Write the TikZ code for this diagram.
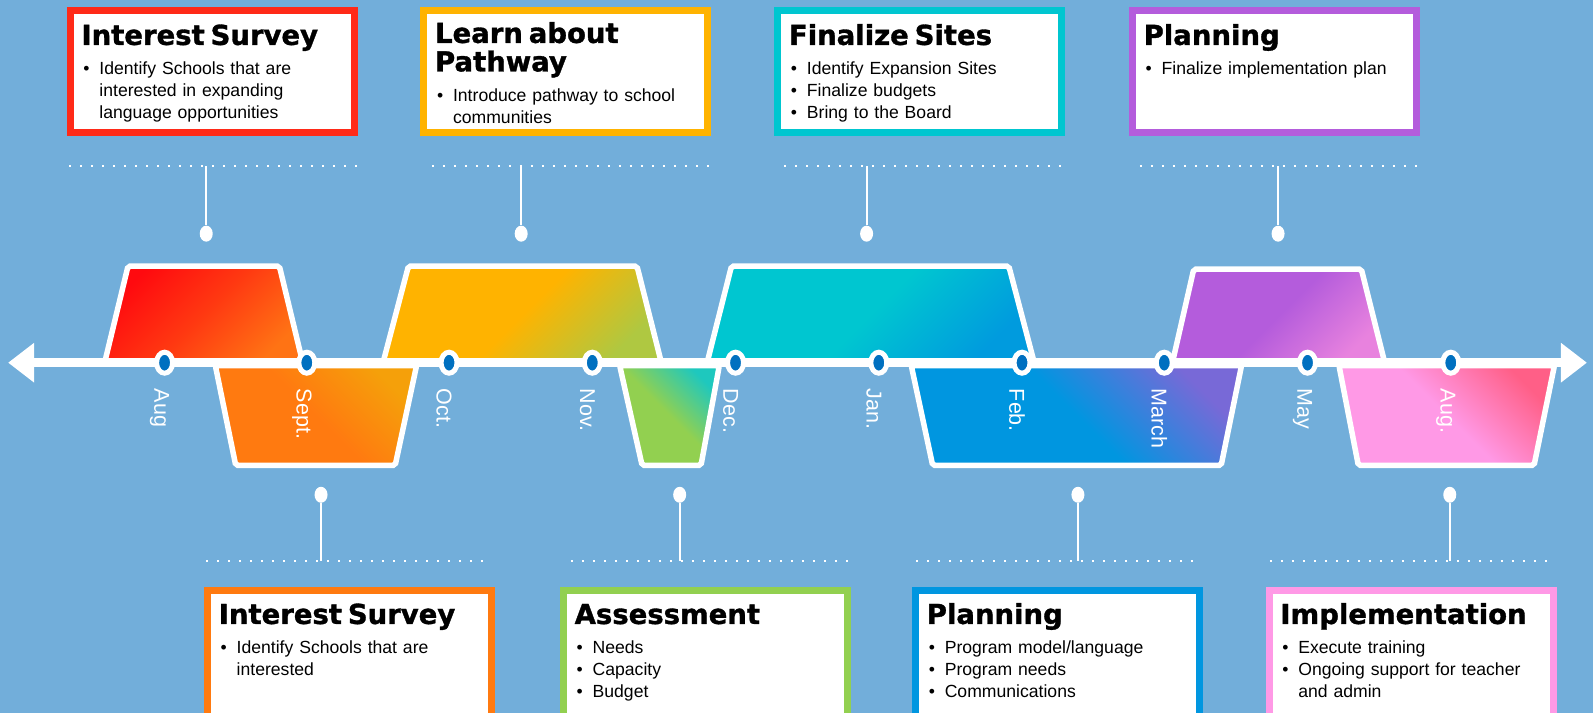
\documentclass[tikz,border=0pt]{standalone}
\usepackage{fontspec}
\setmainfont{Liberation Sans}
\newfontfamily\headfam{DejaVu Sans}[BoldFeatures={FakeBold=1.2}]
\usetikzlibrary{positioning,arrows.meta,shapes.geometric}

\definecolor{bg}{RGB}{114,174,218}
\definecolor{dotblue}{RGB}{0,112,192}
\definecolor{cred}{RGB}{255,42,24}
\definecolor{cgold}{RGB}{255,179,0}
\definecolor{cteal}{RGB}{0,198,208}
\definecolor{cpurple}{RGB}{180,92,220}
\definecolor{corange}{RGB}{255,122,16}
\definecolor{cgreen}{RGB}{146,208,80}
\definecolor{cblue}{RGB}{0,150,224}
\definecolor{cpink}{RGB}{255,153,230}
\definecolor{sred}{RGB}{255,10,15}
\definecolor{sred2}{RGB}{255,115,20}
\definecolor{sgold2}{RGB}{175,200,65}
\definecolor{steal2}{RGB}{0,155,222}
\definecolor{spurple2}{RGB}{232,130,222}
\definecolor{sorange2}{RGB}{245,160,10}
\definecolor{sgreen2}{RGB}{30,200,190}
\definecolor{sblue2}{RGB}{120,105,215}
\definecolor{spink2}{RGB}{255,95,135}

\newcommand{\hd}[1]{\noindent{\headfam\bfseries\fontsize{27.5}{28.5}\selectfont\rule{0pt}{21pt}#1\par}\vspace{8pt}}
\newcommand{\bul}[1]{\par\noindent\hangindent=18pt\hangafter=1\makebox[18pt][l]{\hspace{2pt}\textbullet}#1\par}

\begin{document}
\begin{tikzpicture}[x=1.01594pt, y=-1.01594pt,
	card/.style={draw=#1, line width=7pt, fill=white, minimum width=284pt, inner sep=0pt},
	txt/.style={inner sep=0pt, text width=265pt, align=left, font=\fontsize{17.6}{22}\selectfont},
	slab/.style={draw=white, line width=5.5pt, rounded corners=2pt},
	upshade/.style 2 args={top color=#1, bottom color=#2, middle color=#1, shading angle=45},
	downshade/.style 2 args={top color=#2, bottom color=#1, middle color=#1, shading angle=-45},
	mdot/.style={ellipse, fill=dotblue, draw=white, line width=5pt, minimum width=16pt, minimum height=21pt, inner sep=0pt},
	month/.style={rotate=-90, anchor=west, inner sep=0pt, text=white, font=\fontsize{21.5}{24}\selectfont},
	knob/.style={ellipse, fill=white, minimum width=13pt, minimum height=16pt, inner sep=0pt},
	stem/.style={white, line width=2pt},
	dotrule/.style={white, line width=2pt, dash pattern=on 2pt off 9pt}]

	\useasboundingbox (0,0) rectangle (1568,701.8);
	\fill[bg] (0,0) rectangle (1568,701.8);
	\clip (0,0) rectangle (1568,701.8);

	% slabs
	\draw[slab, upshade={sred}{sred2}, middle color=sred!55!sred2] (126,262) -- (275,262) -- (298,357) -- (103,357) -- cycle;
	\draw[slab, upshade={cgold}{sgold2}] (402,262) -- (627,262) -- (651,357) -- (377,357) -- cycle;
	\draw[slab, upshade={cteal}{steal2}] (720,262) -- (993,262) -- (1018,357) -- (696,357) -- cycle;
	\draw[slab, upshade={cpurple}{spurple2}] (1175,265) -- (1340,265) -- (1363,357) -- (1154,357) -- cycle;
	\draw[slab, downshade={corange}{sorange2}] (212,360) -- (410,360) -- (389,458) -- (232,458) -- cycle;
	\draw[slab, downshade={cgreen}{sgreen2}] (610,360) -- (708,360) -- (690,458) -- (632,458) -- cycle;
	\draw[slab, downshade={cblue}{sblue2}] (897,360) -- (1222,360) -- (1202,458) -- (918,458) -- cycle;
	\draw[slab, downshade={cpink}{spink2}] (1318,360) -- (1530,360) -- (1510,458) -- (1337,458) -- cycle;

	% time line
	\coordinate (la) at (8,357);
	\coordinate (ra) at (1562,357);
	\draw[white, line width=9pt, {Triangle[length=26pt,width=38pt]}-{Triangle[length=26pt,width=38pt]}] (la) -- (ra);
	\foreach \x/\m [count=\i] in {162/Aug, 302/Sept., 442/Oct., 583/Nov., 724/Dec., 865/Jan., 1006/Feb., 1146/March, 1287/May, 1428/Aug.}{
		\node[mdot] (d\i) at (\x,357) {};
		\node[month] (m\i) at ([xshift=-5pt, yshift=-26pt]d\i.center) {\m};
	}

	% cards above
	\node[card=cred, minimum height=122pt] (top1) at (208.9,70.6) {};
	\node[card=cgold, minimum height=122pt] (top2) at (557,70.6) {};
	\node[card=cteal, minimum height=122pt] (top3) at (905.3,70.6) {};
	\node[card=cpurple, minimum height=122pt] (top4) at (1254.5,70.6) {};

	\node[txt, below right=16.5pt and 14.5pt of top1.north west] (ttop1) {\hd{Interest Survey}\bul{Identify Schools that are\newline interested in expanding\newline language opportunities}};
	\node[txt, below right=14.5pt and 14.5pt of top2.north west] (ttop2) {\hd{Learn about\newline Pathway}\bul{Introduce pathway to school\newline communities}};
	\node[txt, below right=16.5pt and 14.5pt of top3.north west] (ttop3) {\hd{Finalize Sites}\bul{Identify Expansion Sites}\bul{Finalize budgets}\bul{Bring to the Board}};
	\node[txt, below right=16.5pt and 14.5pt of top4.north west] (ttop4) {\hd{Planning}\bul{Finalize implementation plan}};

	% cards below
	\node[card=corange, minimum height=150pt] (bot1) at (344,655.3) {};
	\node[card=cgreen, minimum height=150pt] (bot2) at (694.4,655.3) {};
	\node[card=cblue, minimum height=150pt] (bot3) at (1041,655.3) {};
	\node[card=cpink, minimum height=150pt] (bot4) at (1389,655.3) {};

	\node[txt, below right=15.5pt and 14.5pt of bot1.north west] (tbot1) {\hd{Interest Survey}\bul{Identify Schools that are\newline interested}};
	\node[txt, below right=15.5pt and 14.5pt of bot2.north west] (tbot2) {\hd{Assessment}\bul{Needs}\bul{Capacity}\bul{Budget}};
	\node[txt, below right=15.5pt and 14.5pt of bot3.north west] (tbot3) {\hd{Planning}\bul{Program model/language}\bul{Program needs}\bul{Communications}};
	\node[txt, below right=15.5pt and 14.5pt of bot4.north west] (tbot4) {\hd{Implementation}\bul{Execute training}\bul{Ongoing support for teacher\newline and admin}};

	% pins and dotted rules
	\foreach \a/\b/\k [count=\i] in {68/352/203, 425/700/513, 772/1048/853, 1122/1397/1258}{
		\coordinate (ra\i) at (\a,163);
		\coordinate (rb\i) at (\b,163);
		\node[knob] (kt\i) at (\k,230) {};
		\draw[dotrule] (ra\i) -- (rb\i);
		\draw[stem] (kt\i) -- (kt\i |- ra\i);
	}
	\foreach \a/\b/\k [count=\i] in {203/478/316, 562/837/669, 902/1178/1061, 1250/1525/1427}{
		\coordinate (sa\i) at (\a,552);
		\coordinate (sb\i) at (\b,552);
		\node[knob] (kb\i) at (\k,487) {};
		\draw[dotrule] (sa\i) -- (sb\i);
		\draw[stem] (kb\i) -- (kb\i |- sa\i);
	}
\end{tikzpicture}
\end{document}
